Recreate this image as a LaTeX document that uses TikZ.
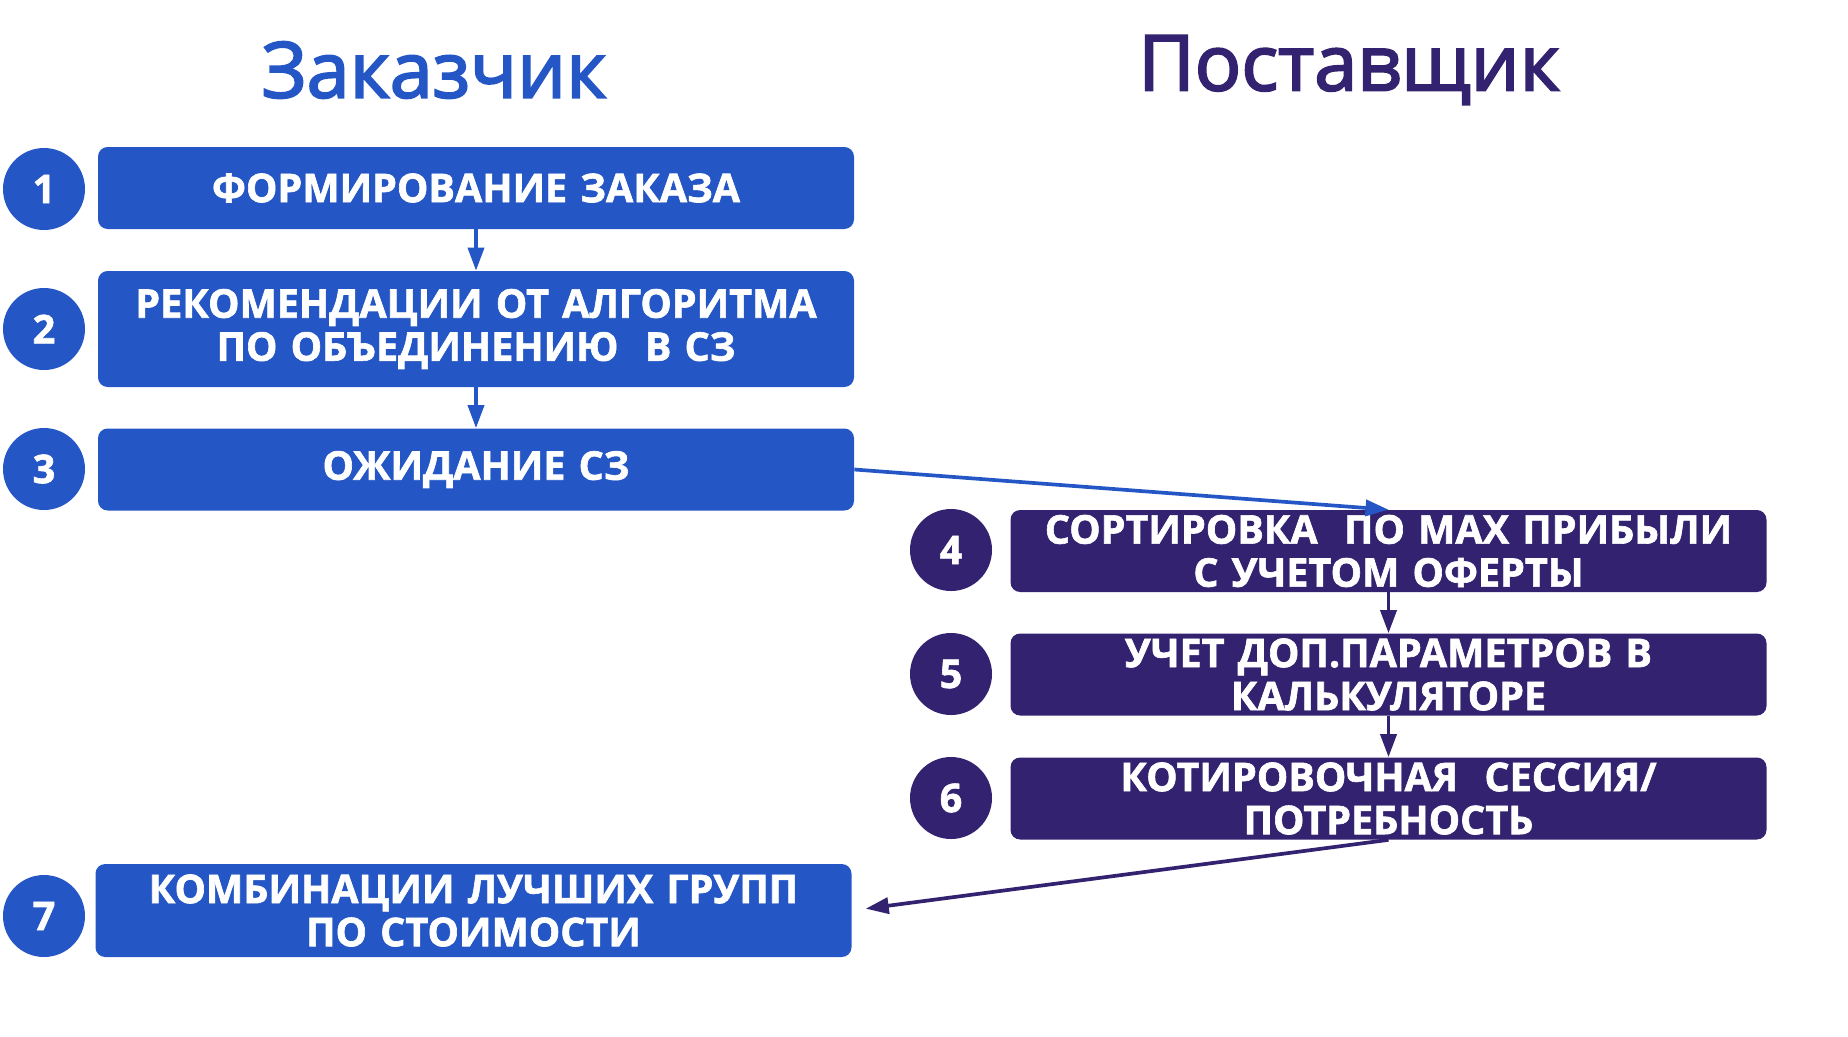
\documentclass[tikz,border=0pt]{standalone}
\usepackage{fontspec}
\setmainfont{Open Sans}[BoldFeatures={FakeBold=1.6}]
\newfontfamily\titlefont{Open Sans}[FakeBold=2.6]
\usetikzlibrary{arrows.meta}

\definecolor{custblue}{HTML}{2457C5}
\definecolor{suppurple}{HTML}{33226F}

\begin{document}
\begin{tikzpicture}[
        font=\bfseries\fontsize{22.5}{24.5}\selectfont,
        stepbox/.style={
            fill=custblue,
            rounded corners=5.5pt,
            text=white,
            minimum width=15.12cm,
            minimum height=1.64cm,
            text width=14.8cm,
            align=center,
            inner sep=0pt
        },
        supbox/.style={
            stepbox,
            fill=suppurple
        },
        num/.style={
            circle,
            fill=custblue,
            text=white,
            minimum size=1.64cm,
            inner sep=0pt
        },
        supnum/.style={
            num,
            fill=suppurple
        },
        title/.style={
            font=\titlefont\fontsize{44}{50}\selectfont
        },
        flow/.style={
            line width=2.1pt,
            -{Triangle[length=0.46cm,width=0.32cm]}
        }
    ]

    \useasboundingbox (0,0) rectangle (36.96,-20.72);

    % column titles
    \node[title, text=custblue] (cust) at (8.68,-1.4) {Заказчик};
    \node[title, text=suppurple] (supp) at (26.98,-1.4) {Поставщик};

    % customer side
    \node[stepbox] (order) at (9.52,-3.76)
        {ФОРМИРОВАНИЕ ЗАКАЗА};
    \node[stepbox, minimum height=2.32cm] (recom) at (9.52,-6.58)
        {\raisebox{-2pt}{\parbox{14.8cm}{\centering РЕКОМЕНДАЦИИ ОТ АЛГОРИТМА\\ПО ОБЪЕДИНЕНИЮ\ \ В СЗ}}};
    \node[stepbox] (wait) at (9.52,-9.39)
        {ОЖИДАНИЕ СЗ};
    \node[stepbox, minimum height=1.86cm] (combo) at (9.47,-18.21)
        {КОМБИНАЦИИ ЛУЧШИХ ГРУПП\\ПО СТОИМОСТИ};

    \node[num] (n1) at (0.88,-3.78) {1};
    \node[num] (n2) at (0.88,-6.58) {2};
    \node[num] (n3) at (0.88,-9.38) {3};
    \node[num] (n7) at (0.88,-18.32) {7};

    % supplier side
    \node[supbox] (sort) at (27.77,-11.02)
        {СОРТИРОВКА\ \ ПО MAX ПРИБЫЛИ\\С УЧЕТОМ ОФЕРТЫ};
    \node[supbox] (params) at (27.77,-13.49)
        {УЧЕТ ДОП.ПАРАМЕТРОВ В\\КАЛЬКУЛЯТОРЕ};
    \node[supbox] (session) at (27.77,-15.97)
        {КОТИРОВОЧНАЯ\ \ СЕССИЯ/\\ПОТРЕБНОСТЬ};

    \node[supnum] (n4) at (19.02,-11.0) {4};
    \node[supnum] (n5) at (19.02,-13.48) {5};
    \node[supnum] (n6) at (19.02,-15.96) {6};

    \draw[flow, custblue] (order) -- (recom);
    \draw[flow, custblue] (recom) -- (wait);
    \draw[flow, custblue] (wait.east) -- (sort.north);
    \draw[flow, suppurple] (sort) -- (params);
    \draw[flow, suppurple] (params) -- (session);
    \draw[flow, suppurple, shorten >=0.28cm] (session.south) -- (combo.east);

\end{tikzpicture}
\end{document}
